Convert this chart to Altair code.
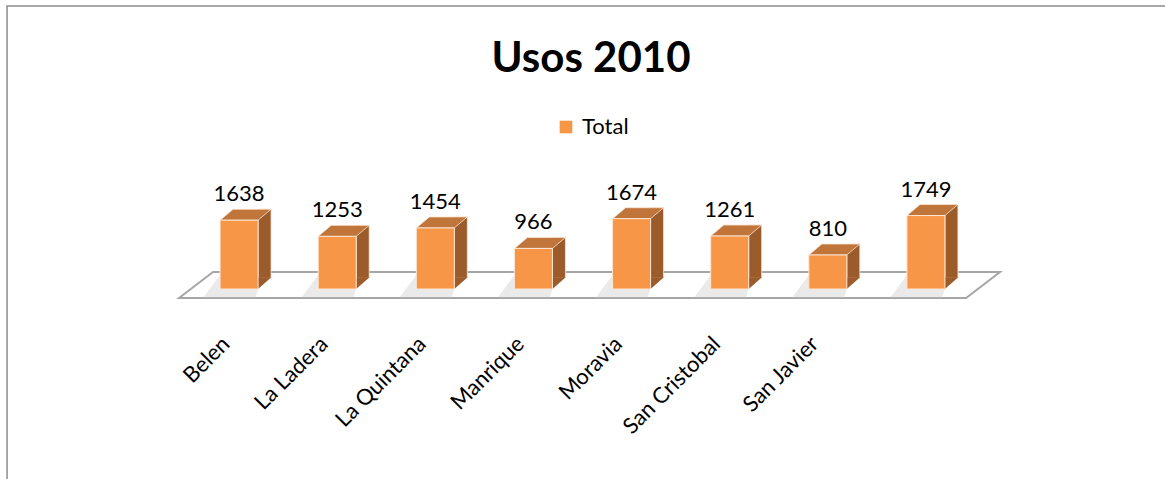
import altair as alt
import pandas as pd

# ---- data ----
categories = ["Belen", "La Ladera", "La Quintana", "Manrique", "Moravia",
              "San Cristobal", "San Javier", " "]
values = [1638, 1253, 1454, 966, 1674, 1261, 810, 1749]
series_name = "Total"
title_text = "Usos 2010"

df = pd.DataFrame({"barrio": categories, "usos": values,
                   "serie": [series_name] * len(categories),
                   "cero": [0] * len(categories)})

# ---- layout (default 5px padding, plot area covers the page) ----
PAD = 5
W, H = 1165 - 2 * PAD, 479 - 2 * PAD
X_RANGE = [190 - PAD, 975 - PAD]
Y_RANGE = [289 - PAD, 121 - PAD]
FONT = "Lato"

FRONT = "#F79646"
TOPC = "#C0763A"
SIDE = "#9C5B2A"
EDGE = "#FCE6D4"

# glyph outlines (size=4 -> 1 unit = 1 px), relative to the anchor point
TOP_PATH = "M -19 0 L 19 0 L 32 -11 L -6 -11 Z"
SIDE_LOW_PATH = "M 19 -11.7 L 32.3 -11.7 L 19 0 Z"
SHADOW_PATH = "M -19 -14 L -36 9 L 16 9 L 19 0 Z"
# floor and outer frame anchored at first category / zero
FLOOR_PATH = "M -60 9 L -26 -17 L 761 -17 L 727 9 Z"
FRAME_PATH = "M -232 200 L -232 -283 L 940 -283"

x_enc = alt.X("barrio:N", sort=categories,
              scale=alt.Scale(paddingInner=0, paddingOuter=0, range=X_RANGE),
              axis=alt.Axis(title=None, labelAngle=-45, labelAlign="right",
                            labelBaseline="middle", labelPadding=51,
                            offset=-(H - Y_RANGE[0]),
                            labelOffset=-13, labelFont=FONT, labelFontSize=22,
                            labelColor="black", domain=False, ticks=False,
                            labelOverlap=False, labelLimit=0))
y_enc = alt.Y("usos:Q", scale=alt.Scale(domain=[0, 4000], range=Y_RANGE),
              axis=None)
y_zero = alt.Y("cero:Q", axis=None)

base = alt.Chart(df)
first = base.transform_filter(alt.datum.barrio == categories[0])

frame = first.mark_point(shape=FRAME_PATH, size=4, filled=False,
                         stroke="#8C8C8C", strokeWidth=1.5, opacity=1
                         ).encode(x=x_enc, y=y_zero)

floor = first.mark_point(shape=FLOOR_PATH, size=4, filled=True, fill="white",
                         stroke="#A6A6A6", strokeWidth=2, opacity=1
                         ).encode(x=x_enc, y=y_zero)

shadow = base.mark_point(shape=SHADOW_PATH, size=4, filled=True,
                         fill="#C4C4C4", strokeWidth=0, opacity=0.35
                         ).encode(x=x_enc, y=y_zero)

side = base.mark_bar(width=13, xOffset=25.5, yOffset=-11, fill=SIDE,
                     stroke=EDGE, strokeWidth=0.8).encode(x=x_enc, y=y_enc)

side_low = base.mark_point(shape=SIDE_LOW_PATH, size=4, filled=True,
                           fill=SIDE, strokeWidth=0, opacity=1
                           ).encode(x=x_enc, y=y_zero)

topface = base.mark_point(shape=TOP_PATH, size=4, filled=True, fill=TOPC,
                          stroke=EDGE, strokeWidth=0.8, opacity=1
                          ).encode(x=x_enc, y=y_enc)

front = base.mark_bar(width=38, stroke=EDGE, strokeWidth=1).encode(
    x=x_enc, y=y_enc,
    color=alt.Color("serie:N", scale=alt.Scale(domain=[series_name], range=[FRONT]),
                    legend=alt.Legend(title=None, orient="none", legendX=550,
                                      legendY=111, symbolType="square",
                                      symbolSize=160, symbolStrokeWidth=0,
                                      labelFont=FONT, labelFontSize=22,
                                      labelColor="black", labelOffset=5)))

labels = base.mark_text(dy=-19, baseline="alphabetic", font=FONT, fontSize=22,
                        color="black").encode(x=x_enc, y=y_enc, text="usos:Q")

title = first.mark_text(text=title_text, font=FONT, fontSize=42,
                        fontWeight="bold", color="black", align="center",
                        baseline="alphabetic").encode(
    x=alt.value(591 - PAD), y=alt.value(72 - PAD))

chart = alt.layer(frame, floor, shadow, side, side_low, topface, front, labels,
                  title).properties(
    width=W, height=H,
    autosize=alt.AutoSizeParams(type="none"),
    background="white",
).configure_view(stroke=None)

chart.save("out.html", embed_options={"renderer": "svg", "actions": False})
